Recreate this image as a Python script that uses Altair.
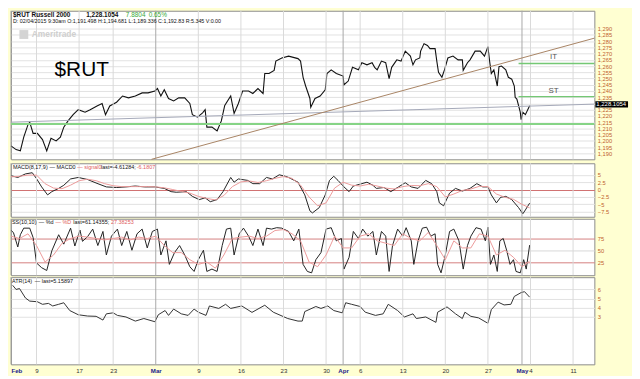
import altair as alt
import pandas as pd

# ---------------- data ----------------
tick_t = [0, 3, 8, 12, 17, 22, 27, 32, 37, 39, 41, 46, 51, 56, 60, 61, 66]
tick_labels = ["Feb", "9", "17", "23", "Mar", "9", "16", "23", "30", "Apr", "6", "13", "20", "27", "May", "4", "11"]
month_t = [0, 17, 39, 60]

price_t = [0.0,0.6,1.1,1.5,2.0,2.2,2.6,3.1,3.7,4.2,
           4.7,5.3,5.8,6.2,6.7,7.3,7.9,8.7,9.3,10.1,
           10.7,11.1,11.6,12.4,13.1,13.8,14.6,15.4,16.1,16.9,
           17.2,17.6,18.0,18.5,19.1,19.7,20.4,21.0,21.3,21.9,
           22.5,22.8,23.0,23.6,24.2,24.7,25.1,25.8,26.2,26.7,
           27.2,27.9,28.4,29.0,29.6,29.8,30.3,30.9,31.1,31.8,
           32.6,33.7,34.0,34.3,34.6,35.1,35.2,35.7,36.3,36.9,
           37.1,37.6,38.2,39.0,39.1,39.6,40.1,40.8,41.2,41.8,
           42.4,42.7,43.0,43.5,44.0,44.4,44.7,45.3,45.8,46.3,
           46.9,47.2,47.5,48.0,48.1,48.5,48.9,49.2,49.8,50.0,
           50.2,50.6,50.9,51.3,51.9,52.5,53.0,53.1,53.6,53.9,
           54.5,55.1,55.6,56.0,56.2,56.4,56.7,57.1,57.3,57.6,
           58.1,58.4,58.8,59.1,59.2,59.4,59.8,59.9,60.1,60.4,
           60.9]
price_v = [1196,1193,1192,1203,1213,1215,1206,1206,1201,1192,
           1202,1200,1203,1211,1216,1221,1225,1223,1225,1228,
           1230,1221,1228,1231,1236,1234.5,1236,1238.5,1238.5,1240,
           1242,1236,1241,1234,1232,1234.5,1234.5,1230,1221,1219,
           1222.5,1225,1211,1211,1208,1216,1228.5,1236,1222,1230,
           1240,1240,1238,1242,1238,1254,1254,1256.5,1264,1266.5,
           1268,1266,1264,1251,1244,1234,1227,1234,1236,1241,
           1254,1257,1254,1252,1245,1248,1259,1257,1262.7,1261,
           1262.7,1259,1257,1264,1262.7,1250,1259,1265,1264,1272,
           1268,1261,1265,1266.5,1272,1278,1276.5,1274,1274,1264,
           1255,1251,1257,1266.5,1268,1265,1265,1256.6,1262.7,1265,
           1272,1272,1268,1275.6,1264,1254,1257,1244,1259.5,1260,
           1257,1251,1249.5,1244,1235,1233.5,1223,1217,1223,1221,
           1228.1]
last_price = 1228.1054
price_ticks = [1190,1195,1200,1205,1210,1215,1220,1225,1230,1235,1240,
               1245,1250,1255,1260,1265,1270,1275,1280,1285,1290]

support_level = 1213.5
it_level = 1262.0
st_level = 1235.5
level_start_t = 59.6
gray_trend_t = [0.0, 68.5]
gray_trend_v = [1215.0, 1229.5]
tan_trend_t = [16.5, 68.5]
tan_trend_v = [1185.2, 1282.4]

macd_t = [0,0.8,1.7,2.5,3.0,3.6,4.3,4.8,5.6,6.2,
          7.0,7.9,9.0,10.1,11.2,12.4,13.5,14.6,15.7,16.9,
          18.0,18.8,19.4,20.6,21.3,22.1,22.8,23.4,24.2,24.9,
          25.8,26.2,26.7,27.8,28.4,29.2,30.0,30.7,31.5,32.2,
          32.6,33.7,34.5,35.1,35.4,36.2,36.9,37.4,37.9,38.4,
          39.1,39.7,40.2,41.2,41.8,42.5,42.9,43.8,44.6,45.5,
          46.3,47.0,47.8,48.7,49.4,50.0,50.3,50.8,51.5,52.2,
          53.0,53.9,54.7,55.4,56.0,56.4,57.0,57.5,58.1,58.8,
          59.6,60.1,60.4,60.9]
macd_v = [4.7,4.1,5.3,5.7,3.7,0.9,-1.8,-0.7,0.4,1.45,
          3.6,4.1,3.4,2.1,0.9,0.7,0.9,1.2,0.9,0.9,
          0.4,-0.7,-0.9,-0.7,-2.3,-3.4,-2.8,-4.1,-3.4,-0.7,
          4.1,2.5,3.6,3.1,2.0,2.0,4.1,3.6,5.0,4.5,
          4.1,2.5,-1.8,-7.2,-7.9,-6.1,-1.8,3.1,4.5,3.1,
          0.9,-0.7,1.2,2.0,2.5,1.45,0.4,0.7,-0.7,0.9,
          2.3,0.9,0.4,3.1,2.0,-0.7,-4.5,-5.5,-1.2,0.4,
          -0.5,0.4,2.0,0.9,0.9,-1.8,-4.5,-2.6,-2.3,-3.4,
          -6.1,-8.2,-6.9,-4.6]
sig_t = [0,1,2,3,4,5,6,7,8,9,10,11,12,13,14,15,16,17,18,19,20,21,22,23,24,25,26,27,28,29,
         30,31,32,33,34,35,36,37,38,39,40,41,42,43,44,45,46,47,48,49,50,51,52,53,54,55,56,57,58,59,
         60,60.9]
sig_v = [4.3,4.5,4.9,4.9,2.0,0.5,0.3,1.5,3.0,3.5,
         3.0,2.0,1.3,1.0,1.0,1.0,1.0,0.9,0.6,0.0,
         -0.6,-1.2,-2.3,-3.0,-3.5,-2.0,1.0,2.6,2.9,2.4,
         3.0,3.8,4.4,3.8,1.5,-2.5,-5.5,-4.5,0.5,2.5,
         1.5,1.2,1.8,1.2,0.5,0.2,1.0,1.4,1.3,2.0,
         1.0,-2.5,-1.5,-0.3,0.2,1.1,1.0,-1.5,-2.6,-3.3,
         -5.0,-6.18]

sto_k = [(0,93),(0.3,87),(0.8,57),(1.1,83),(1.5,97),(2.2,97),(2.6,77),(3.0,23),(3.6,13),(4.2,7),
         (4.8,49),(5.6,83),(6.2,63),(7.0,97),(7.5,59),(8.1,93),(8.4,69),(9.0,79),(9.6,95),(10.2,60),
         (10.8,90),(11.2,40),(11.8,80),(12.5,95),(13.0,60),(13.6,90),(14.2,50),(14.8,85),(15.4,95),(16.0,55),
         (16.6,90),(17.2,95),(17.6,40),(18.2,70),(18.6,20),(19.2,45),(19.8,60),(20.4,40),(21.0,15),(21.5,5),
         (22.0,30),(22.6,50),(23.0,5),(23.6,10),(24.2,5),(24.8,60),(25.3,95),(25.8,97),(26.2,40),(26.8,85),
         (27.3,97),(27.9,80),(28.4,60),(29.0,95),(29.6,60),(30.0,97),(30.6,95),(31.2,98),(31.8,97),(32.6,90),
         (33.2,70),(33.8,95),(34.3,20),(34.8,5),(35.3,2),(35.8,30),(36.4,45),(37.0,95),(37.6,98),(38.2,70),
         (38.8,75),(39.1,10),(39.7,35),(40.2,90),(40.8,75),(41.3,95),(41.9,80),(42.5,90),(42.9,40),(43.5,90),
         (44.0,80),(44.4,5),(44.8,60),(45.4,95),(46.0,80),(46.4,98),(47.0,70),(47.3,20),(47.8,70),(48.3,97),
         (48.8,99),(49.3,80),(49.8,85),(50.1,20),(50.5,2),(51.0,40),(51.5,90),(52.0,95),(52.6,70),(53.1,10),
         (53.6,60),(54.0,80),(54.6,98),(55.2,95),(55.7,70),(56.0,99),(56.3,20),(56.7,40),(57.1,5),(57.4,70),
         (57.8,75),(58.2,50),(58.6,20),(59.0,30),(59.3,5),(59.8,2),(60.2,30),(60.5,10),(60.9,61)]
sto_d = [(0,80),(1,75),(2,85),(3,60),(4,25),(5,40),(6,65),(7,75),(8,80),(9,78),(10,75),(11,72),
         (12,75),(13,78),(14,72),(15,78),(16,75),(17,80),(18,60),(19,45),(20,45),(21,30),(22,20),
         (23,25),(24,12),(25,40),(26,75),(27,78),(28,80),(29,75),(30,80),(31,92),(32,94),(33,85),
         (34,70),(35,25),(36,15),(37,40),(38,80),(39,55),(40,55),(41,80),(42,85),(43,70),(44,65),
         (45,60),(46,85),(47,75),(48,70),(49,88),(50,60),(51,30),(52,70),(53,55),(54,55),(55,85),
         (56,80),(57,40),(58,50),(59,35),(60,15),(60.9,27)]

atr_t = [0.2,0.6,1.0,1.7,2.2,3.1,3.7,4.4,4.9,5.6,
         6.2,6.9,7.9,9.0,10.0,10.8,11.2,12.0,12.5,13.5,
         14.6,15.6,16.9,17.3,18.1,18.5,19.1,20.0,20.8,21.5,
         22.0,22.9,23.3,24.4,25.2,25.8,27.1,28.3,29.8,30.8,
         32.5,33.7,34.2,34.5,35.8,36.4,37.2,37.9,38.9,39.3,
         40.0,41.0,41.6,42.8,43.7,44.3,45.4,46.2,47.2,47.6,
         48.7,49.9,50.1,51.2,52.2,53.0,53.3,54.0,54.9,56.0,
         56.4,57.2,57.9,58.7,59.1,59.9,60.3,60.9]
atr_v = [6.45,6.0,6.1,5.07,4.73,4.66,4.38,4.48,4.2,4.38,
         4.55,3.7,3.24,3.1,3.07,2.66,3.34,3.45,3.17,3.0,
         2.55,2.83,2.48,3.24,3.7,3.17,3.86,3.34,3.17,3.86,
         3.52,3.17,4.2,3.93,4.38,3.93,4.2,3.5,4.28,3.52,
         2.83,2.55,2.55,3.59,4.14,3.93,4.2,3.7,3.45,4.55,
         4.38,4.14,3.52,3.17,3.34,4.38,3.7,3.0,3.34,2.83,
         3.0,2.41,3.52,4.1,3.34,2.83,3.52,3.07,2.9,2.31,
         3.8,4.62,4.31,4.38,5.24,5.66,5.76,5.16]

# ---------------- layout / style ----------------
W = 589
H_P, H_M, H_S, H_A = 150, 54, 57, 88
X_DOMAIN = [0, 68.5]
FONT = "Liberation Sans"
AXIS_COL = "#c0602c"
RED = "#e06060"

one = pd.DataFrame({"k": [0]})


def txt(s, x, y, size=6.5, color="#111", weight="normal", align="left"):
    return alt.Chart(one).mark_text(
        text=s, align=align, baseline="middle", fontSize=size, color=color,
        fontWeight=weight, font=FONT
    ).encode(x=alt.value(x), y=alt.value(y))


def right_axis(values, label_expr=None, grid_color="#e2e2e2"):
    kw = dict(orient="right", values=values, title=None, ticks=False, domain=False,
              labelPadding=3, grid=True, gridColor=grid_color, labelColor=AXIS_COL,
              labelFontSize=5.8, labelFont=FONT, labelOverlap=False)
    if label_expr:
        kw["labelExpr"] = label_expr
    return alt.Axis(**kw)


label_expr = "[" + ",".join("'%s'" % s for s in tick_labels) + "][indexof([" + \
    ",".join(str(t) for t in tick_t) + "], datum.value)]"
month_test = "indexof([" + ",".join(str(t) for t in month_t) + "], datum.value) >= 0"
X_AXIS = alt.Axis(values=tick_t, labelExpr=label_expr, title=None, ticks=False, domain=False,
                  grid=False, labelOverlap=False, labelFontSize=6.2, labelFont=FONT,
                  labelPadding=3,
                  labelColor={"condition": {"test": month_test, "value": "#1a1a8c"}, "value": "#333"},
                  labelFontWeight={"condition": {"test": month_test, "value": "bold"}, "value": "normal"})
XSC = alt.Scale(domain=X_DOMAIN, nice=False, zero=False)

vgrid = pd.DataFrame({"t": tick_t, "m": [t in month_t for t in tick_t]})


def make_panel(yscale, yaxis, xaxis=None):
    def X():
        return alt.X("t:Q", scale=XSC, axis=xaxis)

    def Y(field="v"):
        return alt.Y(field + ":Q", scale=yscale, axis=yaxis)

    return X, Y


def vrules(X):
    return alt.Chart(vgrid).mark_rule(strokeWidth=1).encode(
        x=X(),
        color=alt.condition(alt.datum.m, alt.value("#a8a8a8"), alt.value("#dadada")),
    )


# ---------------- price panel ----------------
YP = alt.Scale(domain=[1185.2, 1304.4], nice=False, zero=False)
P_AXIS = right_axis(price_ticks, "datum.value == 1230 ? '' : format(datum.value, ',')")
PX, PY = make_panel(YP, P_AXIS)

pr_df = pd.DataFrame({"t": price_t, "v": price_v})
price_line = alt.Chart(pr_df).mark_line(color="#111", strokeWidth=1.1).encode(x=PX(), y=PY())
support = alt.Chart(pd.DataFrame({"v": [support_level]})).mark_rule(
    color="#86d486", strokeWidth=2).encode(y=PY())
levels = alt.Chart(pd.DataFrame({"t": [level_start_t] * 2, "t2": [X_DOMAIN[1]] * 2,
                                 "v": [it_level, st_level]})).mark_rule(
    color="#74c874", strokeWidth=1.5).encode(x=PX(), x2="t2:Q", y=PY())
gray_tr = alt.Chart(pd.DataFrame({"t": gray_trend_t, "v": gray_trend_v})).mark_line(
    color="#a4a8b8", strokeWidth=1).encode(x=PX(), y=PY())
tan_tr = alt.Chart(pd.DataFrame({"t": tan_trend_t, "v": tan_trend_v})).mark_line(
    color="#a88464", strokeWidth=1).encode(x=PX(), y=PY())
lvl_text = alt.Chart(pd.DataFrame({"t": [63.7, 63.7], "v": [it_level + 5.5, st_level + 4.3],
                                   "s": ["IT", "ST"]})).mark_text(
    fontSize=8, color="#555", font=FONT).encode(x=PX(), y=PY(), text="s:N")
cur_df = pd.DataFrame({"v": [last_price]})
cur_box = alt.Chart(cur_df).mark_rule(color="#000", strokeWidth=6.5, yOffset=-1.5).encode(
    x=alt.value(W + 1), x2=alt.value(W + 34), y=PY())
cur_txt = alt.Chart(cur_df).mark_text(
    text="1,228.1054", color="#fff", fontSize=6, font=FONT, align="left", baseline="middle",
    dy=-1.5
).encode(x=alt.value(W + 2), y=PY())

header = [
    txt("$RUT Russell 2000", 2, 4, weight="bold"),
    txt("1,228.1054", 76, 4, weight="bold"),
    txt("7.8804", 116, 4, color="#3aaa3a"),
    txt("0.65%", 139, 4, color="#3aaa3a"),
    txt("D: 02/04/2015   9:30am  O:1,191.498  H:1,194.681  L:1,189.336  C:1,192.83  R:5.345  V:0.00",
        2, 10.8, size=5.4),
    alt.Chart(one).mark_square(size=80, color="#d4d4d4", opacity=1).encode(
        x=alt.value(13), y=alt.value(24)),
    txt("Ameritrade", 21, 24, size=8.5, color="#cfcfcf", weight="bold"),
    txt("$RUT", 44, 60, size=21, color="#000"),
]

price_panel = alt.layer(
    price_line, vrules(PX), support, gray_tr, tan_tr, levels, lvl_text, *header, cur_box, cur_txt
).properties(width=W, height=H_P)

# ---------------- MACD panel ----------------
YM = alt.Scale(domain=[-9.2, 8.9], nice=False, zero=False)
M_AXIS = right_axis([-7.5, -5, -2.5, 0, 2.5, 5], "format(datum.value, '')",
                    {"condition": {"test": "datum.value == 0", "value": "#d07070"}, "value": "#e2e2e2"})
MX, MY = make_panel(YM, M_AXIS)
macd_line = alt.Chart(pd.DataFrame({"t": macd_t, "v": macd_v})).mark_line(
    color="#222", strokeWidth=1).encode(x=MX(), y=MY())
sig_line = alt.Chart(pd.DataFrame({"t": sig_t, "v": sig_v})).mark_line(
    color="#ec9a9a", strokeWidth=1).encode(x=MX(), y=MY())
macd_lbl = [
    txt("MACD(8,17,9)", 2, 4, size=5.5),
    txt("— MACD0", 39, 4, size=5.5),
    txt("— signal0", 67, 4, size=5.5, color=RED),
    txt("last=-4.61284;", 91, 4, size=5.5),
    txt("-6.1807", 127, 4, size=5.5, color=RED),
]
macd_panel = alt.layer(macd_line, vrules(MX), sig_line, *macd_lbl).properties(width=W, height=H_M)

# ---------------- Stochastic panel ----------------
YS = alt.Scale(domain=[-3, 117], nice=False, zero=False)
S_AXIS = right_axis([25, 50, 75], None,
                    {"condition": {"test": "datum.value == 50", "value": "#d8d8d8"}, "value": "#d48080"})
SX, SY = make_panel(YS, S_AXIS)
k_line = alt.Chart(pd.DataFrame(sto_k, columns=["t", "v"])).mark_line(
    color="#222", strokeWidth=1).encode(x=SX(), y=SY())
d_line = alt.Chart(pd.DataFrame(sto_d, columns=["t", "v"])).mark_line(
    color="#ec9a9a", strokeWidth=1).encode(x=SX(), y=SY())
sto_lbl = [
    txt("SS(10,10)", 1, 3.5, size=5.5),
    txt("— %d", 28, 3.5, size=5.5),
    txt("— %D", 45, 3.5, size=5.5, color=RED),
    txt("last=61.14355;", 63, 3.5, size=5.5),
    txt("27.38253", 101, 3.5, size=5.5, color=RED),
]
sto_panel = alt.layer(k_line, vrules(SX), d_line, *sto_lbl).properties(width=W, height=H_S)

# ---------------- ATR panel ----------------
YA = alt.Scale(domain=[-2.17, 7.34], nice=False, zero=False)
A_AXIS = right_axis([3, 4, 5, 6])
AX, AY = make_panel(YA, A_AXIS, X_AXIS)
atr_line = alt.Chart(pd.DataFrame({"t": atr_t, "v": atr_v})).mark_line(
    color="#333", strokeWidth=1).encode(x=AX(), y=AY())
atr_lbl = [
    txt("ATR(14)", 1, 3.5, size=5.5),
    txt("— last=5.15897", 24, 3.5, size=5.5),
]
atr_panel = alt.layer(atr_line, vrules(AX), *atr_lbl).properties(width=W, height=H_A)

chart = alt.vconcat(price_panel, macd_panel, sto_panel, atr_panel, spacing=0).properties(
    padding=0, background="#ffffd2"
).configure_view(stroke="#8c8c8c", fill="white")

chart.save("out.html", embed_options={"renderer": "svg", "actions": False})
